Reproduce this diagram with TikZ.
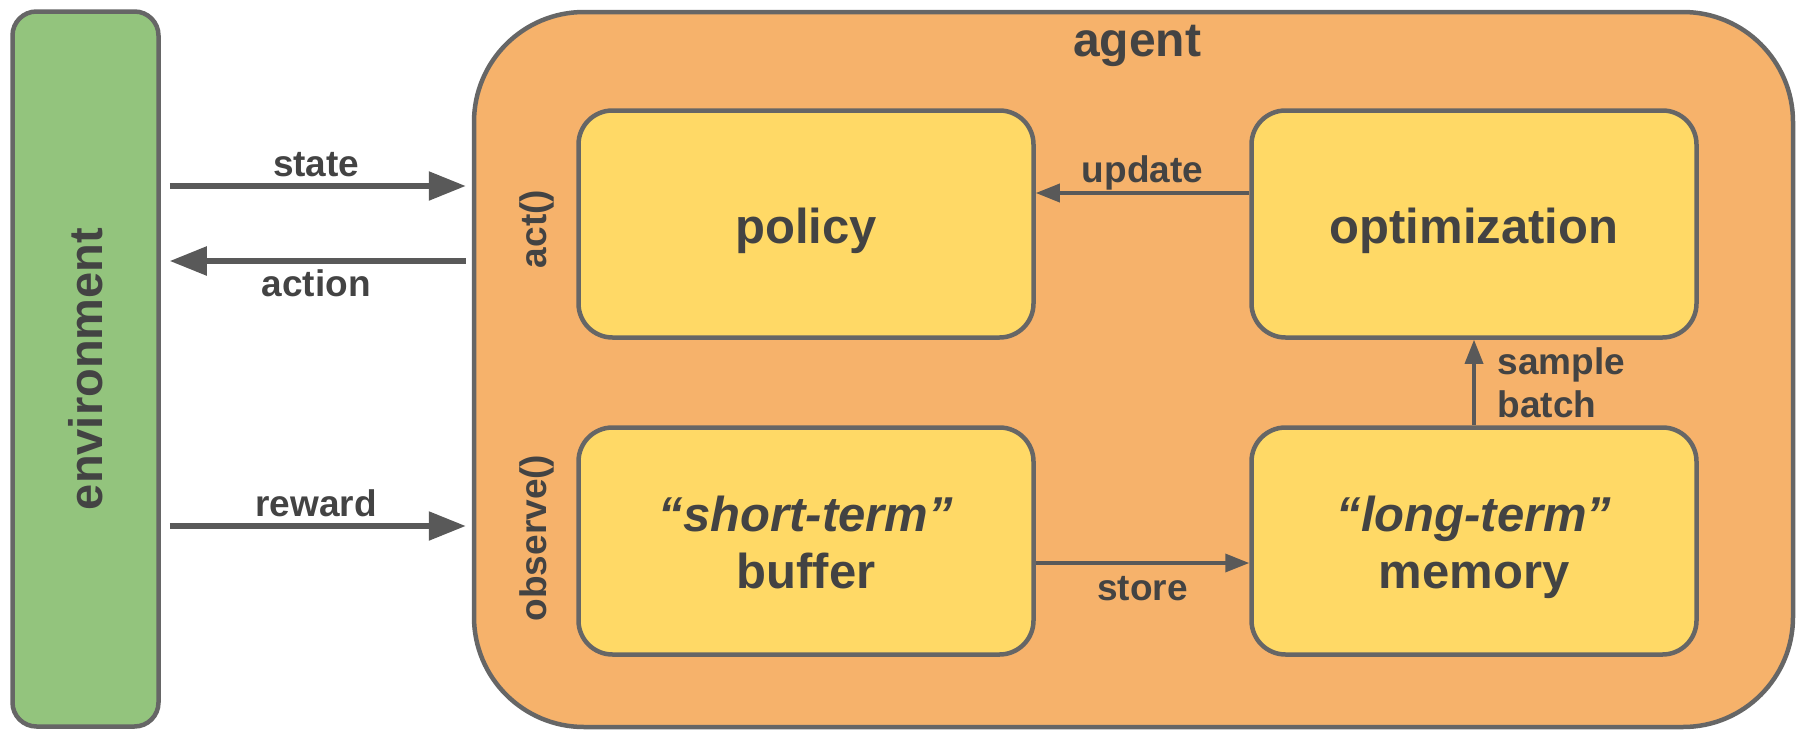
\documentclass[tikz,border=0pt]{standalone}
\usepackage{fontspec}
\setmainfont{Liberation Sans}
\usepackage{xcolor}
\definecolor{gr}{RGB}{147, 196, 125}
\definecolor{og}{RGB}{246, 178, 107}
\definecolor{ye}{RGB}{255, 217, 102}
\definecolor{bd}{RGB}{102, 102, 102}
\definecolor{tx}{RGB}{67, 67, 67}
\definecolor{ar}{RGB}{89, 89, 89}
\usetikzlibrary{arrows.meta}

\begin{document}
\begin{tikzpicture}[x=1pt, y=-1pt,
    blk/.style={draw=bd, line width=4.5pt, fill=ye, rounded corners=34pt, text=tx, align=center, font=\bfseries\fontsize{49}{57}\selectfont,
        execute at begin node={\rule{0pt}{50pt}}, execute at end node={\rule[-12pt]{0pt}{12pt}}},
    lbl/.style={text=tx, font=\bfseries\fontsize{37}{43}\selectfont},
    flow/.style={ar, line width=5.5pt, -{Triangle[length=37pt, width=28pt]}},
    link/.style={ar, line width=3.5pt, -{Triangle[length=24pt, width=18pt]}}]

    \useasboundingbox (0,0) rectangle (1796,731);

    % Environment and agent frames
    \node[draw=bd, line width=4.5pt, fill=gr, rounded corners=24pt, minimum width=146pt, minimum height=715pt] (env) at (85.5,369) {};
    \node[rotate=90, text=tx, font=\bfseries\fontsize{47}{55}\selectfont] (envlbl) at (env.center) {environment};
    \node[draw=bd, line width=4.5pt, fill=og, rounded corners=110pt, minimum width=1319pt, minimum height=715pt] (agent) at (1133.5,369.5) {};
    \node[text=tx, font=\bfseries\fontsize{48}{56}\selectfont] (agentlbl) at (1137,46) {agent};

    % Inner blocks
    \node[blk, minimum width=455pt, minimum height=227pt] (policy) at (806,224) {policy};
    \node[blk, minimum width=445pt, minimum height=227pt] (optim) at (1474,224) {optimization};
    \node[blk, minimum width=455pt, minimum height=227pt] (buffer) at (806,541) {\rule{0pt}{50pt}\textit{“short-term”}\\buffer};
    \node[blk, minimum width=445pt, minimum height=227pt] (memory) at (1474,541) {\rule{0pt}{50pt}\textit{“long-term”}\\memory};

    % Method names along the agent's left side
    \node[lbl, rotate=90] (act) at (537,229) {act()};
    \node[lbl, rotate=90] (observe) at (537,538) {observe()};

    % Heights of the connectors
    \coordinate (ys) at (0,186);
    \coordinate (ya) at (0,261);
    \coordinate (yr) at (0,526);
    \coordinate (yu) at (0,193);
    \coordinate (yst) at (0,563);

    % Environment <-> agent
    \draw[flow, shorten <=9pt, shorten >=6pt] (env.east |- ys) -- node[lbl, anchor=base, yshift=10pt] {state} (agent.west |- ys);
    \draw[flow, shorten <=6pt, shorten >=9pt] (agent.west |- ya) -- node[lbl, anchor=base, yshift=-35pt] {action} (env.east |- ya);
    \draw[flow, shorten <=9pt, shorten >=6pt] (env.east |- yr) -- node[lbl, anchor=base, yshift=10pt] {reward} (agent.west |- yr);

    % Inside the agent
    \draw[link] (optim.west |- yu) -- node[lbl, anchor=base, yshift=11pt] {update} (policy.east |- yu);
    \draw[link] (buffer.east |- yst) -- node[lbl, anchor=base, yshift=-37pt] {store} (memory.west |- yst);
    \draw[link] (memory.north) -- node[lbl, anchor=west, align=left, inner sep=0pt, xshift=22pt] {sample\\batch} (optim.south);
\end{tikzpicture}
\end{document}
